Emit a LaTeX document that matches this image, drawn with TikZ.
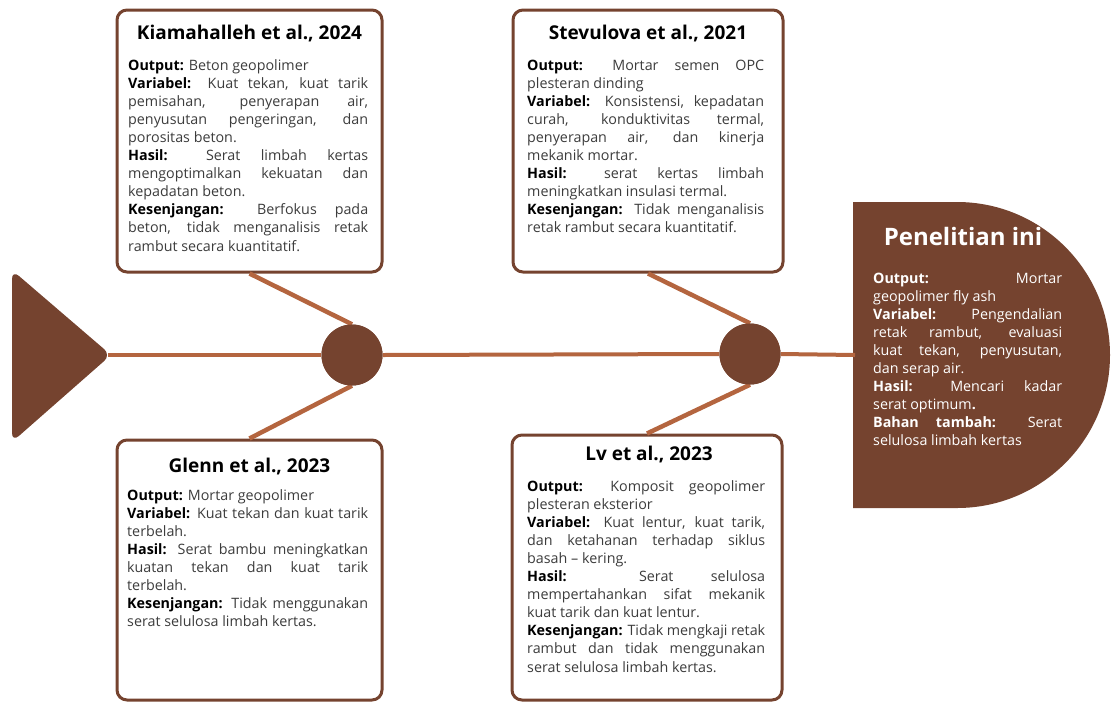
\documentclass[tikz,border=0pt]{standalone}
\usepackage{fontspec}
\setmainfont{Open Sans}
\definecolor{dark}{HTML}{75432F}
\definecolor{bonec}{HTML}{B4653F}
\definecolor{txt}{HTML}{3C3C3C}
\newcommand{\lab}[1]{\textbf{\color{black}#1}}
\newcommand{\wlab}[1]{\textbf{#1}}
\newcommand{\bodytext}[2]{\begin{minipage}[t]{#1}\fontsize{14.3}{18.1}\selectfont\setlength\parindent{0pt}\hyphenpenalty=10000\exhyphenpenalty=10000\tolerance=10000\hbadness=10000\hfuzz=3pt\relax #2\end{minipage}}
\tikzset{
  boxstyle/.style={draw=dark, line width=3pt, rounded corners=10pt, fill=white, inner sep=0pt},
  bonestyle/.style={draw=bonec, line width=4.5pt},
  spinestyle/.style={draw=bonec, line width=4pt},
  hub/.style={circle, fill=dark, minimum size=61pt, inner sep=0pt},
  titlestyle/.style={font=\fontsize{19}{22}\selectfont\bfseries, text=black, anchor=base, inner sep=0pt},
  bodystyle/.style={anchor=base west, inner sep=0pt, text=txt},
}
\begin{document}
\begin{tikzpicture}[x=1pt,y=-1pt]
\useasboundingbox (0,0) rectangle (1116,702);
% tail triangle
\fill[dark, rounded corners=9pt] (12,270) -- (111,355) -- (12,442) -- cycle;
\coordinate (tip) at (108,355);
% head
\fill[dark] (853,202) -- (957,202) arc (-90:90:153) -- (853,508) -- cycle;
\coordinate (headin) at (855,355);
% hubs
\node[hub] (c1) at (352,355) {};
\node[hub] (c2) at (750,354) {};
% spine
\draw[spinestyle] (tip) -- (c1.west);
\draw[spinestyle] (c1.east) -- (c2.west);
\draw[spinestyle] (c2.east) -- (headin);
% boxes
\node[boxstyle, minimum width=265pt, minimum height=262pt] (b1) at (249.5,141) {};
\node[boxstyle, minimum width=270pt, minimum height=262pt] (b2) at (648,141) {};
\node[boxstyle, minimum width=265pt, minimum height=260pt] (b3) at (249.5,570) {};
\node[boxstyle, minimum width=270pt, minimum height=265pt] (b4) at (647,567.5) {};
% bones
\draw[bonestyle] (b1.south) -- (c1.north);
\draw[bonestyle] (c1.south) -- (b3.north);
\draw[bonestyle] (b2.south) -- (c2.north);
\draw[bonestyle] (c2.south) -- (b4.north);
% redraw hubs on top
\node[hub] at (c1) {};
\node[hub] at (c2) {};
% titles
\node[titlestyle] (t1) at (249.5,39) {Kiamahalleh et al., 2024};
\node[titlestyle] (t2) at (648,39) {Stevulova et al., 2021};
\node[titlestyle] (t3) at (249.5,472) {Glenn et al., 2023};
\node[titlestyle] (t4) at (649,460) {Lv et al., 2023};
\node[titlestyle, text=white, font=\fontsize{24}{28}\selectfont\bfseries] (t5) at (963,245) {Penelitian ini};
% bodies
\node[bodystyle] (x1) at (128,70) {\bodytext{240pt}{%
\lab{Output:} Beton geopolimer\par
\lab{Variabel:} Kuat tekan, kuat tarik\linebreak pemisahan, penyerapan air,\linebreak penyusutan pengeringan, dan\linebreak porositas beton.\par
\lab{Hasil:} Serat limbah kertas\linebreak mengoptimalkan kekuatan dan\linebreak kepadatan beton.\par
\lab{Kesenjangan:} Berfokus pada\linebreak beton, tidak menganalisis retak\linebreak rambut secara kuantitatif.}};
\node[bodystyle] (x2) at (527,70) {\bodytext{237pt}{%
\lab{Output:} Mortar semen OPC\linebreak plesteran dinding\par
\lab{Variabel:} Konsistensi, kepadatan\linebreak curah, konduktivitas termal,\linebreak penyerapan air, dan kinerja\linebreak mekanik mortar.\par
\lab{Hasil:} serat kertas limbah\linebreak meningkatkan insulasi termal.\par
\lab{Kesenjangan:} Tidak menganalisis\linebreak retak rambut secara kuantitatif.}};
\node[bodystyle] (x3) at (127,500) {\bodytext{241pt}{%
\lab{Output:} Mortar geopolimer\par
\lab{Variabel:} Kuat tekan dan kuat tarik\linebreak terbelah.\par
\lab{Hasil:} Serat bambu meningkatkan\linebreak kuatan tekan dan kuat tarik\linebreak terbelah.\par
\lab{Kesenjangan:} Tidak menggunakan\linebreak serat selulosa limbah kertas.}};
\node[bodystyle] (x4) at (527,491) {\bodytext{238pt}{%
\lab{Output:} Komposit geopolimer\linebreak plesteran eksterior\par
\lab{Variabel:} Kuat lentur, kuat tarik,\linebreak dan ketahanan terhadap siklus\linebreak basah – kering.\par
\lab{Hasil:} Serat selulosa\linebreak mempertahankan sifat mekanik\linebreak kuat tarik dan kuat lentur.\par
\lab{Kesenjangan:} Tidak mengkaji retak\linebreak rambut dan tidak menggunakan\linebreak serat selulosa limbah kertas.}};
\node[bodystyle, text=white] (x5) at (873,283) {\bodytext{189pt}{%
\wlab{Output:} Mortar\linebreak geopolimer fly ash\par
\wlab{Variabel:} Pengendalian\linebreak retak rambut, evaluasi\linebreak kuat tekan, penyusutan,\linebreak dan serap air.\par
\wlab{Hasil:} Mencari kadar\linebreak serat optimum\textbf{.}\par
\wlab{Bahan tambah:} Serat\linebreak selulosa limbah kertas}};
\end{tikzpicture}
\end{document}
